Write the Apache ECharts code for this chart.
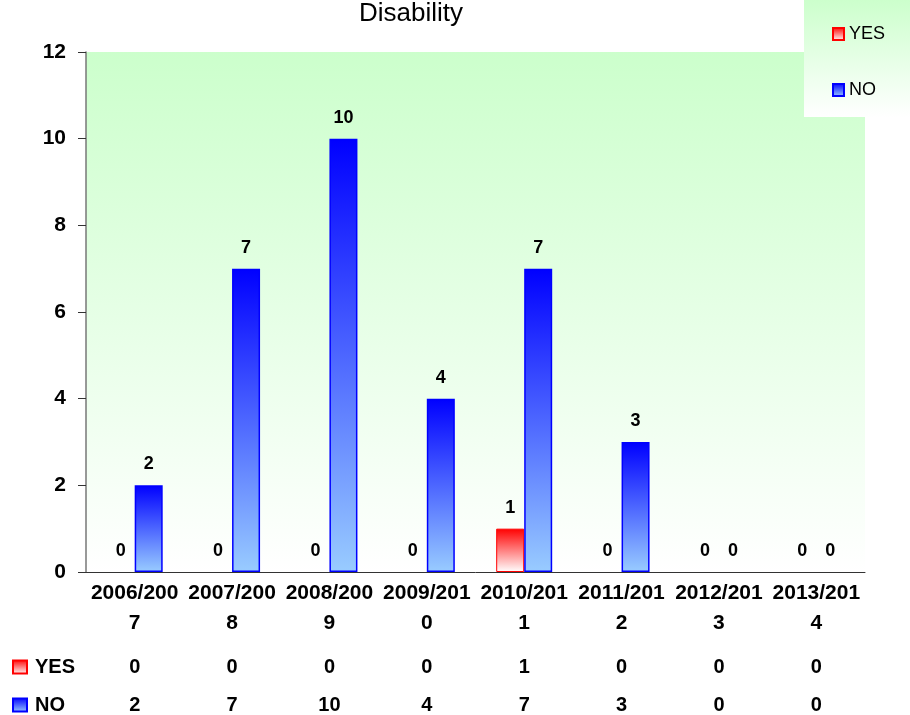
<!DOCTYPE html>
<html>
<head>
<meta charset="utf-8">
<script src="https://cdn.jsdelivr.net/npm/echarts@6/dist/echarts.min.js"></script>
<style>html,body{margin:0;padding:0;background:#fff}#c{width:910px;height:715px}</style>
</head>
<body>
<div id="c"></div>
<script>
const categories = ['2006/2007','2007/2008','2008/2009','2009/2010','2010/2011','2011/2012','2012/2013','2013/2014'];
const yesValues = [0, 0, 0, 0, 1, 0, 0, 0];
const noValues = [2, 7, 10, 4, 7, 3, 0, 0];
const seriesNames = ['YES', 'NO'];
const yTicks = {min: 0, max: 12, interval: 2};

const FONT = '"Liberation Sans", Arial, sans-serif';
const chart = echarts.init(document.getElementById('c'), null, {renderer: 'canvas'});
const G = (a, b) => new echarts.graphic.LinearGradient(0, 0, 0, 1, [{offset: 0, color: a}, {offset: 1, color: b}]);

const hiddenAxis = (offset, values) => ({
  type: 'category', data: categories, gridIndex: 0, position: 'bottom', offset: offset,
  axisLine: {show: false}, axisTick: {show: false}, splitLine: {show: false},
  axisLabel: {interval: 0, margin: 0, fontFamily: FONT, fontWeight: 'bold', fontSize: 20, color: '#000', lineHeight: 20,
    formatter: (v, i) => String(values[i])}
});
// zero-height bars carry no visible border
const barData = (values, bw) => values.map(v => ({value: v, itemStyle: {borderWidth: v === 0 ? 0 : bw}}));

chart.setOption({
  animation: false,
  textStyle: {fontFamily: FONT},
  title: {text: 'Disability', left: 411, top: 1, padding: 0, textAlign: 'center',
    textStyle: {fontFamily: FONT, fontWeight: 'normal', fontSize: 26, color: '#000'}},
  legend: [
    {data: seriesNames, orient: 'vertical', left: 804, top: 0, padding: [25, 30, 18, 28],
      itemWidth: 11, itemHeight: 12, itemGap: 38, icon: 'rect',
      backgroundColor: G('#ccffcc', '#ffffff'),
      textStyle: {fontFamily: FONT, fontSize: 18, color: '#000'}},
    {data: seriesNames, orient: 'vertical', left: 12, top: 657, padding: 0,
      itemWidth: 14, itemHeight: 13, itemGap: 18, icon: 'rect',
      textStyle: {fontFamily: FONT, fontSize: 20, fontWeight: 'bold', color: '#000', padding: [0, 0, 0, 3]}}
  ],
  grid: {left: 86, right: 45, top: 52, bottom: 143, show: true, borderWidth: 0,
    backgroundColor: G('#ccffcc', '#ffffff')},
  xAxis: [
    {type: 'category', data: categories, gridIndex: 0,
      axisLine: {lineStyle: {color: '#333', width: 1}}, axisTick: {show: false},
      axisLabel: {interval: 0, margin: 6, fontFamily: FONT, fontWeight: 'bold', fontSize: 21, color: '#000', lineHeight: 30,
        formatter: v => v.slice(0, 8) + '\n' + v.slice(8)}},
    hiddenAxis(85, yesValues),
    hiddenAxis(123, noValues)
  ],
  yAxis: {type: 'value', min: yTicks.min, max: yTicks.max, interval: yTicks.interval,
    axisLine: {show: true, lineStyle: {color: '#777', width: 1.5}},
    axisTick: {show: true, length: 8, lineStyle: {color: '#333'}},
    splitLine: {show: false},
    axisLabel: {margin: 20, fontFamily: FONT, fontWeight: 'bold', fontSize: 21, color: '#000'}},
  series: [
    {name: 'YES', type: 'bar', data: barData(yesValues, 1), barWidth: 28, barGap: '0%',
      itemStyle: {color: G('#ff0000', '#ffffff'), borderColor: '#ff0000', borderWidth: 1},
      label: {show: true, position: 'top', distance: 12, fontFamily: FONT, fontWeight: 'bold', fontSize: 18, color: '#000'}},
    {name: 'NO', type: 'bar', data: barData(noValues, 1.5), barWidth: 28,
      itemStyle: {color: G('#0000ff', '#99ccff'), borderColor: '#0000ff', borderWidth: 1.5},
      label: {show: true, position: 'top', distance: 12, fontFamily: FONT, fontWeight: 'bold', fontSize: 18, color: '#000'}}
  ]
});
</script>
</body>
</html>
